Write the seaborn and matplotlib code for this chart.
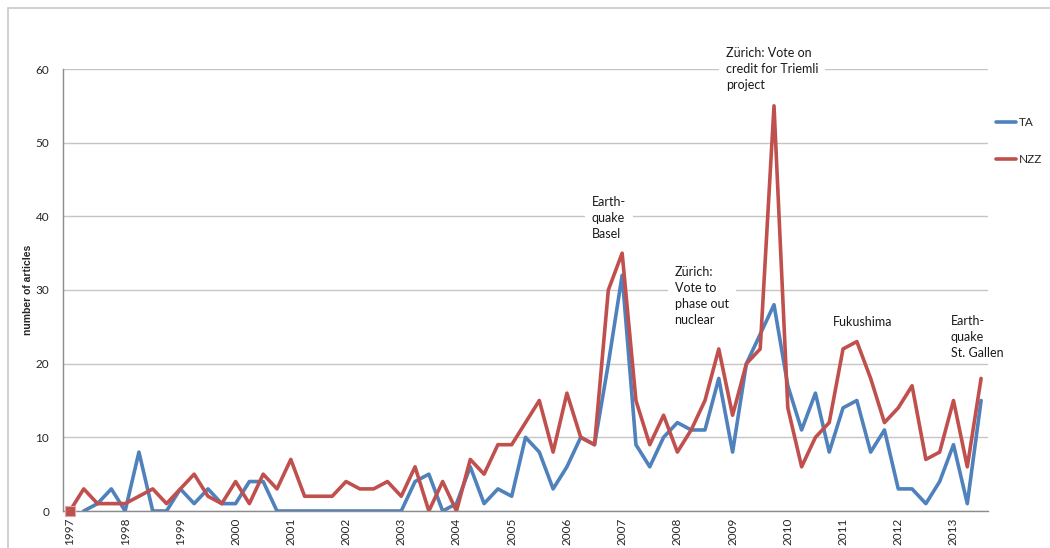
import numpy as np
import pandas as pd
import seaborn as sns
import matplotlib.pyplot as plt
from matplotlib.patches import Rectangle

# quarterly article counts, 1997 Q1 .. 2013 Q3
years = list(range(1997, 2014))
quarters = [f"{y} Q{q}" for y in years for q in range(1, 5)][:67]

ta = [np.nan, 0, 1, 3, 0, 8, 0, 0, 3, 1, 3, 1, 1, 4, 4, 0,
      0, 0, 0, 0, 0, 0, 0, 0, 0, 4, 5, 0, 1, 6, 1, 3,
      2, 10, 8, 3, 6, 10, 9, 20, 32, 9, 6, 10, 12, 11, 11, 18,
      8, 20, 24, 28, 17, 11, 16, 8, 14, 15, 8, 11, 3, 3, 1, 4,
      9, 1, 15]
nzz = [0, 3, 1, 1, 1, 2, 3, 1, 3, 5, 2, 1, 4, 1, 5, 3,
       7, 2, 2, 2, 4, 3, 3, 4, 2, 6, 0, 4, 0, 7, 5, 9,
       9, 12, 15, 8, 16, 10, 9, 30, 35, 15, 9, 13, 8, 11, 15, 22,
       13, 20, 22, 55, 14, 6, 10, 12, 22, 23, 18, 12, 14, 17, 7, 8,
       15, 6, 18]

# event labels: (text, quarter index, top y value, masks gridline)
events = [
    ("Earth-\nquake\nBasel", 37.8, 42.7, True),
    ("Zürich:\nVote to\nphase out\nnuclear", 43.8, 33.3, True),
    ("Zürich: Vote on\ncredit for Triemli\nproject", 47.5, 63.0, True),
    ("Fukushima", 55.3, 26.5, False),
    ("Earth-\nquake\nSt. Gallen", 63.8, 26.6, False),
]

colors = {"TA": "#4F81BD", "NZZ": "#C0504D"}

df = pd.DataFrame({
    "q": list(range(len(quarters))) * 2,
    "articles": ta + nzz,
    "paper": ["TA"] * len(quarters) + ["NZZ"] * len(quarters),
})

sns.set_theme(style="white")
plt.rcParams["font.family"] = ["Lato", "DejaVu Sans"]

fig = plt.figure(figsize=(10.5, 5.48), dpi=100)
ax = fig.add_axes([63 / 1050, 1 - 511 / 548, (988 - 63) / 1050, (511 - 69) / 548])

sns.lineplot(data=df, x="q", y="articles", hue="paper", palette=colors,
             linewidth=2.6, ax=ax, legend=False)

# odd little marker on the very first NZZ point
ax.plot([0], [nzz[0]], marker="s", markersize=7, color=colors["NZZ"],
        markeredgecolor="#d9a9a8", markeredgewidth=0.8, zorder=5, clip_on=False)

ax.set_xlim(-0.5, len(quarters) - 0.5)
ax.set_ylim(0, 60)
ax.set_yticks(range(0, 61, 10))
ax.set_xticks(range(0, len(quarters), 4))
ax.set_xticklabels([str(y) for y in years], rotation=90, fontsize=8.5)
ax.tick_params(axis="y", labelsize=8.5, length=0, pad=10)
ax.tick_params(axis="x", length=0, pad=5)
ax.set_xlabel("")
ax.set_ylabel("number of articles", fontsize=7.5, fontweight="bold",
              family="Liberation Sans", labelpad=2)

ax.grid(axis="y", color="#c6c6c6", linewidth=1)
ax.set_axisbelow(True)
for s in ["top", "right"]:
    ax.spines[s].set_visible(False)
ax.spines["left"].set_color("#8c8c8c")
ax.spines["bottom"].set_color("#8c8c8c")
ax.spines["left"].set_linewidth(1)
ax.spines["bottom"].set_linewidth(1)

for txt, x, y, mask in events:
    box = dict(facecolor="white", edgecolor="none", pad=5) if mask else None
    ax.text(x, y, txt, fontsize=9, va="top", ha="left", linespacing=1.4,
            color="#1a1a1a", clip_on=False, bbox=box)

# legend
handles = [plt.Line2D([], [], color=colors[p], linewidth=2.6) for p in ["TA", "NZZ"]]
fig.legend(handles, ["TA", "NZZ"], loc="upper left",
           bbox_to_anchor=(996 / 1050, 1 - 117 / 548), frameon=False,
           fontsize=8.5, handlelength=1.7, handletextpad=0.2,
           labelspacing=2.2, borderpad=0, borderaxespad=0)

# outer chart frame (only top and left edges fall inside the image)
fig.patches.append(Rectangle((8 / 1050, -0.1), 1.2, 1 - 8 / 548 + 0.1,
                             transform=fig.transFigure, fill=False,
                             edgecolor="#c8c8c8", linewidth=1.2))

fig.savefig("out.png", dpi=100)
